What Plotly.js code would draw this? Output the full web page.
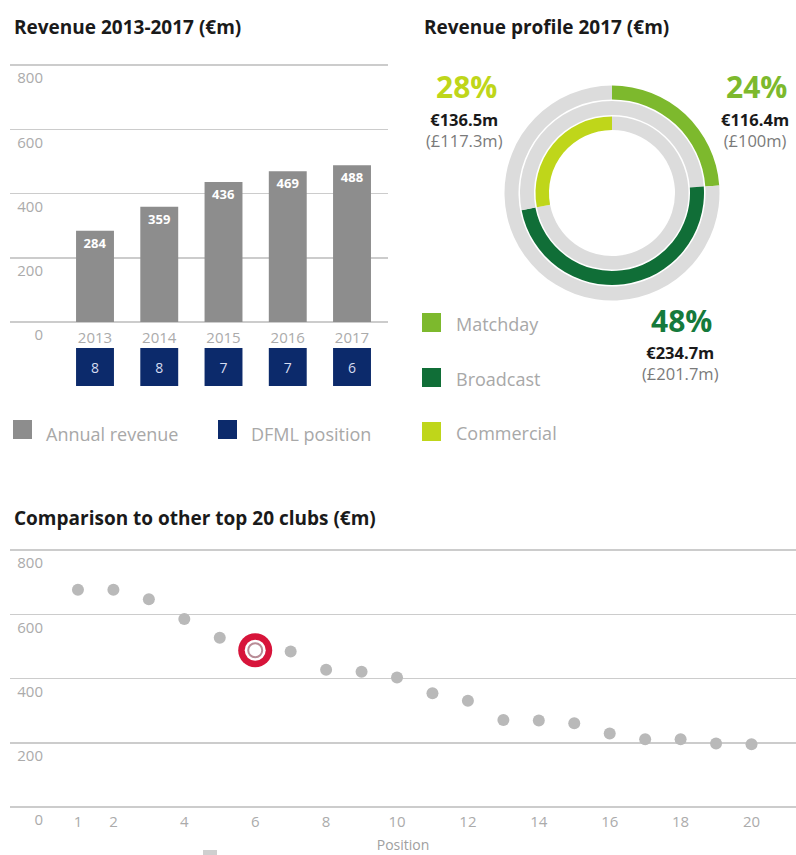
<!DOCTYPE html>
<html><head><meta charset="utf-8">
<script src="https://cdn.plot.ly/plotly-3.0.1.min.js"></script>
<style>html,body{margin:0;padding:0;background:#fff;} #chart{width:796px;height:855px;}</style>
</head><body><div id="chart"></div>
<script>
// ---- data ----
const years = ['2013', '2014', '2015', '2016', '2017'];
const annualRevenue = [284, 359, 436, 469, 488];
const dfmlPosition = [8, 8, 7, 7, 6];

const streams = ['Matchday', 'Broadcast', 'Commercial'];
const streamEur = [116.4, 234.7, 136.5];
const streamGbp = [100, 201.7, 117.3];
const streamPct = [24, 48, 28];

const clubPositions = [1, 2, 3, 4, 5, 6, 7, 8, 9, 10, 11, 12, 13, 14, 15, 16, 17, 18, 19, 20];
const clubRevenue = [676, 676, 647, 585, 527, 488, 484, 427, 421, 403, 354, 331, 271, 269, 261, 229, 211, 211, 198, 195];
const highlightPosition = 6;

const revenueTicks = [0, 200, 400, 600, 800];
const positionTicks = [1, 2, 4, 6, 8, 10, 12, 14, 16, 18, 20];

// ---- styles ----
const W = 796, H = 855;
const X = p => p / W;
const Y = p => 1 - p / H;
const FONT = 'Open Sans, Noto Sans, sans-serif';
const GRID = '#cccccc';
const TICKC = '#ababab';
const BAR_GREY = '#8d8d8d';
const NAVY = '#0c2a6b';
const RING_GREY = '#dcdcdc';
const streamColors = ['#7db92d', '#106e37', '#bfd61a'];
const pctColors = ['#7db92d', '#157a3c', '#bfd61a'];
const PXU = 0.32125;      // px per €m
const YMIN = -8, YMAX = 830;

const traces = [];

// bar chart
traces.push({
  type: 'bar', x: years, y: annualRevenue, xaxis: 'x', yaxis: 'y',
  marker: { color: BAR_GREY },
  text: annualRevenue.map(String), textposition: 'inside', insidetextanchor: 'end',
  textangle: 0, constraintext: 'none',
  textfont: { color: '#ffffff', size: 13, family: FONT, weight: 'bold' },
  hoverinfo: 'skip', showlegend: false
});
traces.push({
  type: 'bar', x: years, y: years.map(() => 1), xaxis: 'x', yaxis: 'y2',
  marker: { color: NAVY },
  text: dfmlPosition.map(String), textposition: 'inside', insidetextanchor: 'middle',
  textangle: 0, constraintext: 'none',
  textfont: { color: '#d6dcf0', size: 14, family: FONT },
  hoverinfo: 'skip', showlegend: false
});

// donut rings
const cx = 612, cy = 193;
function ring(r, holeFrac, values, colors) {
  return {
    type: 'pie', values: values, sort: false, direction: 'clockwise', rotation: 0,
    hole: holeFrac, textinfo: 'none', hoverinfo: 'skip', showlegend: false,
    marker: { colors: colors, line: { width: 0 } },
    domain: { x: [X(cx - r), X(cx + r)], y: [Y(cy + r), Y(cy - r)] }
  };
}
traces.push(ring(107.5, 0.87, [streamEur[0], streamEur[1] + streamEur[2]], [streamColors[0], RING_GREY]));
traces.push(ring(92, 0.848, [streamEur[0], streamEur[1], streamEur[2]], [RING_GREY, streamColors[1], RING_GREY]));
traces.push(ring(76.5, 0.824, [streamEur[0] + streamEur[1], streamEur[2]], [RING_GREY, streamColors[2]]));

// scatter
traces.push({
  type: 'scatter', mode: 'markers', x: clubPositions, y: clubRevenue, xaxis: 'x3', yaxis: 'y3',
  marker: { size: 12, color: '#b9b9b9' }, hoverinfo: 'skip', showlegend: false
});
const hx = [highlightPosition], hy = [clubRevenue[highlightPosition - 1]];
traces.push({ type: 'scatter', mode: 'markers', x: hx, y: hy, xaxis: 'x3', yaxis: 'y3',
  marker: { size: 34, color: '#d7143a' }, hoverinfo: 'skip', showlegend: false });
traces.push({ type: 'scatter', mode: 'markers', x: hx, y: hy, xaxis: 'x3', yaxis: 'y3',
  marker: { size: 21, color: '#ffffff' }, hoverinfo: 'skip', showlegend: false });
traces.push({ type: 'scatter', mode: 'markers', x: hx, y: hy, xaxis: 'x3', yaxis: 'y3',
  marker: { size: 14, color: '#ffffff', line: { color: '#b88c96', width: 2 } }, hoverinfo: 'skip', showlegend: false });

// ---- annotations ----
const ann = [];
function txt(x, y, text, size, color, opts) {
  ann.push(Object.assign({
    xref: 'paper', yref: 'paper', x: X(x), y: Y(y), text: text, showarrow: false,
    xanchor: 'center', yanchor: 'middle',
    font: { family: FONT, size: size, color: color }
  }, opts || {}));
}
const bold = (size, color) => ({ family: FONT, size: size, color: color, weight: 'bold' });
// titles
txt(12, 27, 'Revenue 2013-2017 (€m)', 19, '#1a1a1a', { xanchor: 'left', font: bold(19, '#1a1a1a') });
txt(422, 27, 'Revenue profile 2017 (€m)', 19, '#1a1a1a', { xanchor: 'left', font: bold(19, '#1a1a1a') });
txt(12, 518, 'Comparison to other top 20 clubs (€m)', 19, '#1a1a1a', { xanchor: 'left', font: bold(19, '#1a1a1a') });

// bar legend
txt(44, 434, 'Annual revenue', 18, '#a8a8a8', { xanchor: 'left' });
txt(249, 434, 'DFML position', 18, '#a8a8a8', { xanchor: 'left' });

// donut legend
const legY = [324, 379, 433];
streams.forEach((s, i) => txt(454, legY[i], s, 18, '#a8a8a8', { xanchor: 'left' }));

// donut value labels
const labelPos = [[756, 87], [681, 320], [466, 87]];
streams.forEach((s, i) => {
  const [lx, ly] = labelPos[i];
  txt(lx, ly, streamPct[i] + '%', 30, pctColors[i], { font: bold(30, pctColors[i]) });
  txt(lx - 1, ly + 43,
      '<b>€' + streamEur[i] + 'm</b><br><span style="color:#7a7a7a">(£' + streamGbp[i] + 'm)</span>',
      16.5, '#1a1a1a');
});

// ---- shapes (legend swatches) ----
function sq(x0, y0, s, color) {
  return { type: 'rect', xref: 'paper', yref: 'paper', x0: X(x0), x1: X(x0 + s), y0: Y(y0 + s), y1: Y(y0),
    fillcolor: color, line: { width: 0 } };
}
const shapes = [
  sq(13, 420, 19, BAR_GREY),
  sq(218, 420, 19, NAVY),
  sq(422, 313, 19, streamColors[0]),
  sq(422, 368, 19, streamColors[1]),
  sq(422, 422, 19, streamColors[2]),
  sq(203, 850, 14, '#cfcfcf')
];

const yAxisCommon = {
  range: [YMIN, YMAX], tickvals: revenueTicks, showgrid: true, gridcolor: GRID, gridwidth: 1.5,
  zeroline: false, showline: false, ticks: '',
  tickfont: { family: FONT, size: 15, color: TICKC },
  ticklabelstandoff: -34, ticklabelshift: 13, fixedrange: true
};
const dom = base => [Y(base - YMIN * PXU), Y(base - YMAX * PXU)];

const layout = {
  width: W, height: H, margin: { l: 0, r: 0, t: 0, b: 0, pad: 0 },
  paper_bgcolor: '#ffffff', plot_bgcolor: 'rgba(0,0,0,0)',
  font: { family: FONT },
  bargap: 0.41,
  showlegend: false,
  xaxis: { domain: [X(10), X(388)], range: [-1.323, 4.56], type: 'category', anchor: 'y',
    showgrid: false, zeroline: false, showline: false, ticks: '',
    tickfont: { family: FONT, size: 15, color: TICKC }, ticklabelstandoff: 2, fixedrange: true },
  yaxis: Object.assign({ domain: dom(322), anchor: 'x' }, yAxisCommon),
  yaxis2: { domain: [Y(386), Y(348)], range: [0, 1], anchor: 'x', visible: false, fixedrange: true },
  xaxis3: { domain: [X(10), 1], range: [-0.917, 21.255], anchor: 'y3', tickvals: positionTicks,
    showgrid: false, zeroline: false, showline: false, ticks: '',
    tickfont: { family: FONT, size: 15, color: TICKC }, ticklabelstandoff: 1,
    title: { text: 'Position', font: { family: FONT, size: 14, color: '#a0a0a0' }, standoff: 10 }, fixedrange: true },
  yaxis3: Object.assign({ domain: dom(807), anchor: 'x3' }, yAxisCommon),
  annotations: ann,
  shapes: shapes
};

Plotly.newPlot('chart', traces, layout, { staticPlot: true, displayModeBar: false });
</script>
</body></html>
